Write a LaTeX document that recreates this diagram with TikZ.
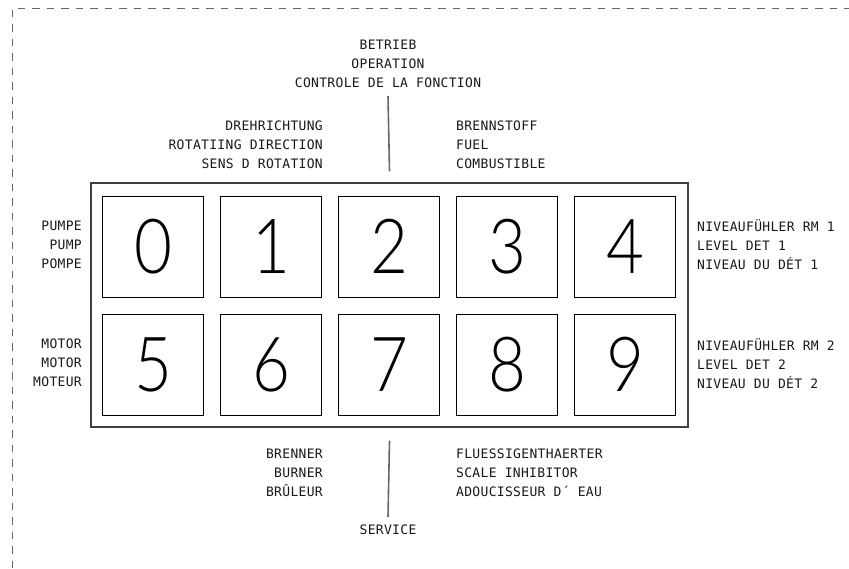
\documentclass[tikz,border=0pt]{standalone}
\usepackage{fontspec}
\newfontfamily\labelfont{DejaVu Sans Mono}[LetterSpace=2.5]
\newfontfamily\digitfont{Lato Light}[FakeStretch=0.86]
\usetikzlibrary{positioning}

\begin{document}
\begin{tikzpicture}[x=1pt,y=-1pt,
    lbl/.style={font=\labelfont\fontsize{13}{19}\selectfont, inner sep=0pt, text=black!90},
    key/.style={draw, line width=.9pt, minimum size=101pt, inner sep=0pt,
      font=\digitfont\fontsize{76}{76}\selectfont},
    stem/.style={draw=black!60, line width=1.6pt},
    frame/.style={draw=black!75, line width=1.2pt}]
  \useasboundingbox (0,0) rectangle (849,568);
  % dashed cut border
  \draw[black!60, line width=1pt, dash pattern=on 7.5pt off 7pt] (12,568) -- (12,8) -- (849,8);

  % panel with keys
  \node[frame, minimum width=597pt, minimum height=244pt] (panel) at (389.5,305) {};
  \foreach \d in {0,...,9}
    \node[key] (k\d) at ({153+118*mod(\d,5)},{246.5+118*floor(\d/5)}) {\d};

  % labels
  \node[lbl, align=center] (op) at (388,64) {BETRIEB\\OPERATION\\CONTROLE DE LA FONCTION};
  \node[lbl, align=right, anchor=east] (dir) at (323,145) {DREHRICHTUNG\\ROTATIING DIRECTION\\SENS D ROTATION};
  \node[lbl, align=left, anchor=west] (fuel) at (456,145) {BRENNSTOFF\\FUEL\\COMBUSTIBLE};
  \node[lbl, align=right, anchor=east] (pump) at (82,245) {PUMPE\\PUMP\\POMPE};
  \node[lbl, align=right, anchor=east] (motor) at (82,363) {MOTOR\\MOTOR\\MOTEUR};
  \node[lbl, align=left, anchor=west] (lev1) at (697,245) {NIVEAUFÜHLER RM 1\\LEVEL DET 1\\NIVEAU DU DÉT 1};
  \node[lbl, align=left, anchor=west] (lev2) at (697,364) {NIVEAUFÜHLER RM 2\\LEVEL DET 2\\NIVEAU DU DÉT 2};
  \node[lbl, align=right, anchor=east] (burner) at (323,473) {BRENNER\\BURNER\\BRÛLEUR};
  \node[lbl, align=left, anchor=west] (softener) at (456,473) {FLUESSIGENTHAERTER\\SCALE INHIBITOR\\ADOUCISSEUR D´ EAU};
  \node[lbl] (svc) at (388,530) {SERVICE};

  % leader lines
  \coordinate (optip) at (388,96);
  \coordinate (svctip) at (388,517);
  \draw[stem] (optip) -- ([yshift=11pt]panel.north);
  \draw[stem] ([yshift=-13pt]panel.south) -- (svctip);
\end{tikzpicture}
\end{document}
